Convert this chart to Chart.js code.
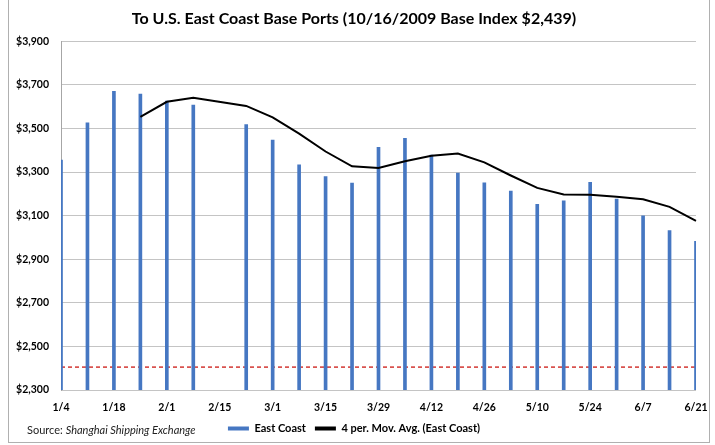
<!DOCTYPE html>
<html>
<head>
<meta charset="utf-8">
<script src="https://cdn.jsdelivr.net/npm/chart.js@4"></script>
<style>
  html, body { margin: 0; padding: 0; background: #fff; }
  #wrap { position: relative; width: 715px; height: 445px; overflow: hidden; }
  #frame { position: absolute; left: 8px; top: -2px; width: 702px; height: 445px; border: 1px solid #b0b0b0; box-sizing: border-box; pointer-events: none; }
  #source { position: absolute; left: 27px; top: 423px; font: 11px Lato, "Open Sans", sans-serif; color: #222; white-space: nowrap; }
  canvas { position: absolute; left: 0; top: 0; }
</style>
</head>
<body>
<div id="wrap">
  <canvas id="c" width="715" height="445"></canvas>
  <div id="frame"></div>
  <div id="source">Source: <i>Shanghai Shipping Exchange</i></div>
</div>
<script>
// Weekly categories (2/15 has no observation)
const weeks = ["1/4","1/11","1/18","1/25","2/1","2/8","2/15","2/22","3/1","3/8","3/15","3/22","3/29",
               "4/5","4/12","4/19","4/26","5/3","5/10","5/17","5/24","5/31","6/7","6/14","6/21"];
// East Coast index values
const eastCoast = [3355,3525,3670,3657,3625,3607,null,3518,3446,3333,3279,3249,3413,
                   3454,3378,3295,3250,3212,3152,3168,3253,3176,3099,3031,2982];
// 4-period moving average
const movingAvg = [null,null,null,3553,3622,3641,null,3603,3551,3476,3394,3326,3318,
                   3349,3375,3385,3344,3284,3227,3197,3196,3187,3175,3140,3076];
// Reference dashed line level
const baseLine = [2405,2405,2405,2405,2405,2405,2405,2405,2405,2405,2405,2405,2405,
                  2405,2405,2405,2405,2405,2405,2405,2405,2405,2405,2405,2405];
const yMin = 2300, yMax = 3900, yStep = 200;

const fontFam = 'Lato, "Open Sans", sans-serif';

new Chart(document.getElementById('c'), {
  type: 'bar',
  data: {
    labels: weeks,
    datasets: [
      {
        label: 'East Coast',
        data: eastCoast,
        backgroundColor: '#4677c2',
        barThickness: 3,
        order: 2
      },
      {
        type: 'line',
        label: '4 per. Mov. Avg. (East Coast)',
        data: movingAvg,
        borderColor: '#000000',
        backgroundColor: '#000000',
        borderWidth: 2,
        pointRadius: 0,
        tension: 0,
        spanGaps: true,
        fill: false,
        order: 1
      },
      {
        type: 'line',
        label: 'base',
        data: baseLine,
        borderColor: '#d9534f',
        borderWidth: 1.6,
        borderDash: [4, 3],
        pointRadius: 0,
        fill: false,
        order: 3
      }
    ]
  },
  options: {
    responsive: false,
    animation: false,
    layout: { padding: { left: 12, right: 19, top: 0, bottom: 1 } },
    plugins: {
      tooltip: { enabled: false },
      title: {
        display: true,
        text: 'To U.S. East Coast Base Ports (10/16/2009 Base Index $2,439)',
        color: '#000',
        font: { family: fontFam, size: 16, weight: 'bold' },
        padding: { top: 9, bottom: 13 }
      },
      legend: {
        position: 'bottom',
        align: 'center',
        labels: {
          color: '#000',
          font: { family: fontFam, size: 11, weight: 'bold' },
          boxWidth: 21,
          boxHeight: 4,
          padding: 9,
          filter: (item) => item.text !== 'base',
          generateLabels: (chart) => {
            const items = Chart.defaults.plugins.legend.labels.generateLabels(chart);
            items.forEach(it => { it.lineWidth = 0; it.lineDash = []; });
            items.sort((a, b) => a.datasetIndex - b.datasetIndex);
            return items;
          }
        }
      }
    },
    scales: {
      x: {
        type: 'category',
        offset: false,
        grid: { display: false },
        border: { display: false },
        ticks: {
          autoSkip: false,
          maxRotation: 0,
          color: '#000',
          font: { family: fontFam, size: 10.5, weight: 'bold' },
          padding: 3,
          callback: function(v, i) { return i % 2 === 0 ? weeks[i] : ''; }
        },
        afterFit: (s) => { s.height = 24; }
      },
      y: {
        min: yMin,
        max: yMax,
        grid: { color: '#c4c4c4', lineWidth: 1, drawTicks: false },
        border: { display: true, color: '#a6a6a6', width: 1 },
        ticks: {
          stepSize: yStep,
          color: '#000',
          font: { family: fontFam, size: 10.5, weight: 'bold' },
          padding: 12,
          callback: (v) => '$' + v.toLocaleString('en-US')
        },
        afterFit: (s) => { s.width = 49; }
      }
    }
  }
});
</script>
</body>
</html>
